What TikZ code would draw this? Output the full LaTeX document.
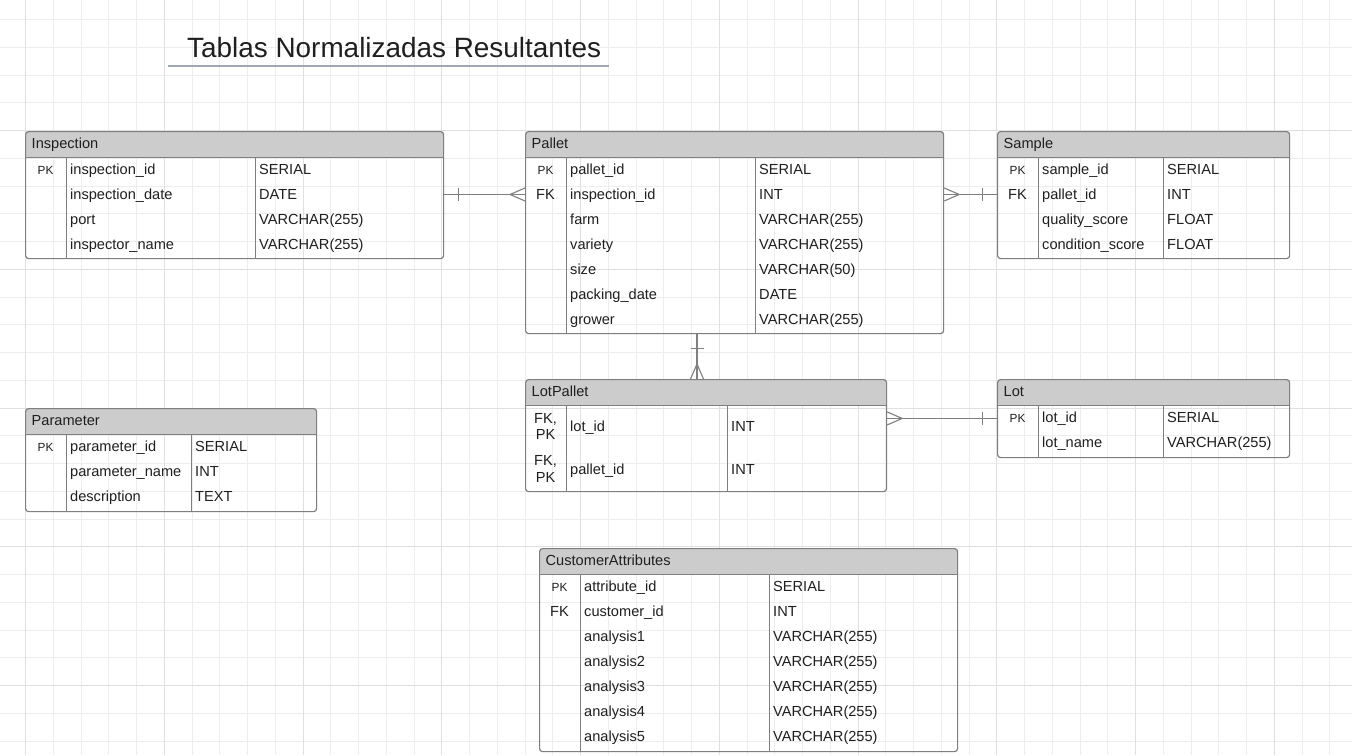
\documentclass[tikz,border=0pt]{standalone}
\usepackage{fontspec}
\setmainfont{Liberation Sans}
\definecolor{gridminor}{HTML}{EDEDED}
\definecolor{gridmajor}{HTML}{E0E0E0}
\definecolor{headgray}{HTML}{CCCCCC}
\definecolor{boxline}{HTML}{7F7F7F}
\definecolor{txtcol}{HTML}{1F1F1F}
\definecolor{titleline}{HTML}{A0A7B5}

\tikzstyle{tbl}=[shape=rectangle,draw=boxline,line width=1.2pt,rounded corners=3pt,anchor=north west,inner sep=0pt,
	path picture={\fill[headgray] (path picture bounding box.north west) rectangle ([yshift=-26pt]path picture bounding box.north east);}]
\tikzstyle{sep}=[draw=boxline,line width=1pt]
\tikzstyle{headtxt}=[anchor=base west,inner sep=0pt,text=txtcol,font=\fontsize{14.6}{17}\selectfont]
\tikzstyle{keytxt}=[anchor=base,inner sep=0pt,text=txtcol,font=\fontsize{14.6}{17}\selectfont]
\tikzstyle{fldtxt}=[anchor=base west,inner sep=0pt,text=txtcol,font=\fontsize{14.6}{17}\selectfont]
\tikzstyle{conn}=[draw=boxline,line width=1.1pt]
\tikzset{
	onebar/.pic={\draw[conn] (14.5,-6.5) -- (14.5,6.5);},
	crowfoot/.pic={\draw[conn] (0,-6.5) -- (15,0) -- (0,6.5);}
}

\newcommand{\pkmark}{{\fontsize{11.8}{14}\selectfont PK}}
% frame of one table: name, x, y, width, height, type column, title
\newcommand{\ertable}[7]{
	\node[tbl,minimum width=#4pt,minimum height=#5pt] (#1) at (#2,#3) {};
	\node[headtxt] (#1-title) at ([xshift=6.5pt,yshift=-17.5pt]#1.north west) {#7};
	\draw[sep] ([yshift=-26pt]#1.north west) -- ([yshift=-26pt]#1.north east);
	\draw[sep] ([xshift=41pt,yshift=-26pt]#1.north west) -- ([xshift=41pt]#1.south west);
	\draw[sep] ([xshift=#6pt,yshift=-26pt]#1.north west) -- ([xshift=#6pt]#1.south west);
}

\begin{document}
\begin{tikzpicture}[x=1pt,y=-1pt]
\useasboundingbox (0,0) rectangle (1352,755);
\fill[white] (0,0) rectangle (1352,755);
\begin{scope}
	\clip (0,0) rectangle (1352,755);
	\foreach \k in {0,...,49}
		\draw[gridminor,line width=0.8pt] (-2.25+27.75*\k,0) -- (-2.25+27.75*\k,755);
	\foreach \k in {0,...,28}
		\draw[gridminor,line width=0.8pt] (0,-8.25+27.75*\k) -- (1352,-8.25+27.75*\k);
	\foreach \k in {0,...,9}
		\draw[gridmajor,line width=1pt] (25.5+138.75*\k,0) -- (25.5+138.75*\k,755);
	\foreach \k in {0,...,4}
		\draw[gridmajor,line width=1pt] (0,130.5+138.75*\k) -- (1352,130.5+138.75*\k);
\end{scope}

\node[anchor=base west,inner sep=0pt,text=txtcol,font=\fontsize{27.9}{32}\selectfont] (title) at (187,57) {Tablas Normalizadas Resultantes};
\draw[titleline,line width=1.3pt] (168,66) -- (609,66);

% Inspection
\ertable{insp}{25}{131}{418}{127}{230}{Inspection}
\foreach \k/\f/\t [count=\i] in {\pkmark/inspection\_id/SERIAL, {}/inspection\_date/DATE, {}/port/VARCHAR(255), {}/inspector\_name/VARCHAR(255)}{
	\node[keytxt] (insp-k\i) at (45.5,149.5+25*\i) {\k};
	\node[fldtxt] (insp-f\i) at (70,149.5+25*\i) {\f};
	\node[fldtxt] (insp-t\i) at (259,149.5+25*\i) {\t};
}

% Pallet
\ertable{pallet}{525}{131}{418}{202}{230}{Pallet}
\foreach \k/\f/\t [count=\i] in {\pkmark/pallet\_id/SERIAL, FK/inspection\_id/INT, {}/farm/VARCHAR(255), {}/variety/VARCHAR(255), {}/size/VARCHAR(50), {}/packing\_date/DATE, {}/grower/VARCHAR(255)}{
	\node[keytxt] (pallet-k\i) at (545.5,149.5+25*\i) {\k};
	\node[fldtxt] (pallet-f\i) at (570,149.5+25*\i) {\f};
	\node[fldtxt] (pallet-t\i) at (759,149.5+25*\i) {\t};
}

% Sample
\ertable{sample}{997}{131}{292}{127}{166}{Sample}
\foreach \k/\f/\t [count=\i] in {\pkmark/sample\_id/SERIAL, FK/pallet\_id/INT, {}/quality\_score/FLOAT, {}/condition\_score/FLOAT}{
	\node[keytxt] (sample-k\i) at (1017.5,149.5+25*\i) {\k};
	\node[fldtxt] (sample-f\i) at (1042,149.5+25*\i) {\f};
	\node[fldtxt] (sample-t\i) at (1167,149.5+25*\i) {\t};
}

% LotPallet
\ertable{lotpallet}{525}{379}{361}{112}{202}{LotPallet}
\foreach \f/\t [count=\i] in {lot\_id/INT, pallet\_id/INT}{
	\node[keytxt,anchor=center,align=center,font=\fontsize{14.6}{16.5}\selectfont] (lotpallet-k\i) at (545.5,384+42.5*\i) {FK,\\PK};
	\node[fldtxt] (lotpallet-f\i) at (570,389+42.5*\i) {\f};
	\node[fldtxt] (lotpallet-t\i) at (731,389+42.5*\i) {\t};
}

% Lot
\ertable{lot}{997}{379}{292}{78}{166}{Lot}
\foreach \k/\f/\t [count=\i] in {\pkmark/lot\_id/SERIAL, {}/lot\_name/VARCHAR(255)}{
	\node[keytxt] (lot-k\i) at (1017.5,397.5+25*\i) {\k};
	\node[fldtxt] (lot-f\i) at (1042,397.5+25*\i) {\f};
	\node[fldtxt] (lot-t\i) at (1167,397.5+25*\i) {\t};
}

% Parameter
\ertable{param}{25}{408}{291}{103}{166}{Parameter}
\foreach \k/\f/\t [count=\i] in {\pkmark/parameter\_id/SERIAL, {}/parameter\_name/INT, {}/description/TEXT}{
	\node[keytxt] (param-k\i) at (45.5,426.5+25*\i) {\k};
	\node[fldtxt] (param-f\i) at (70,426.5+25*\i) {\f};
	\node[fldtxt] (param-t\i) at (195,426.5+25*\i) {\t};
}

% CustomerAttributes
\ertable{custattr}{539}{548}{418}{203}{230}{CustomerAttributes}
\foreach \k/\f/\t [count=\i] in {\pkmark/attribute\_id/SERIAL, FK/customer\_id/INT, {}/analysis1/VARCHAR(255), {}/analysis2/VARCHAR(255), {}/analysis3/VARCHAR(255), {}/analysis4/VARCHAR(255), {}/analysis5/VARCHAR(255)}{
	\node[keytxt] (custattr-k\i) at (559.5,566.5+25*\i) {\k};
	\node[fldtxt] (custattr-f\i) at (584,566.5+25*\i) {\f};
	\node[fldtxt] (custattr-t\i) at (773,566.5+25*\i) {\t};
}

% relations
\draw[conn] (insp.east |- pallet-k2) -- (pallet.west |- pallet-k2);
\pic at (insp.east |- pallet-k2) {onebar};
\pic[rotate=180] at (pallet.west |- pallet-k2) {crowfoot};
\draw[conn] (pallet.east |- sample-k2) -- (sample.west |- sample-k2);
\pic at (pallet.east |- sample-k2) {crowfoot};
\pic[rotate=180] at (sample.west |- sample-k2) {onebar};
\draw[conn] ([xshift=172pt]pallet.south west) -- ([xshift=172pt]lotpallet.north west);
\pic[rotate=-90] at ([xshift=172pt]pallet.south west) {onebar};
\pic[rotate=90] at ([xshift=172pt]lotpallet.north west) {crowfoot};
\draw[conn] (lotpallet.east |- lot-k1) -- (lot.west |- lot-k1);
\pic at (lotpallet.east |- lot-k1) {crowfoot};
\pic[rotate=180] at (lot.west |- lot-k1) {onebar};
\end{tikzpicture}
\end{document}
